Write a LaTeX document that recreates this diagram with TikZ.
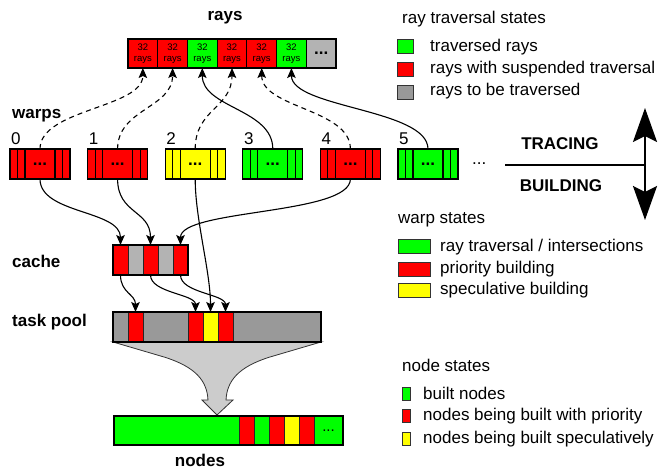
\documentclass[tikz,border=0pt]{standalone}
\usepackage{fontspec}
\setmainfont{Liberation Sans}
\usetikzlibrary{arrows.meta}
\definecolor{cRed}{HTML}{FF0000}
\definecolor{cGreen}{HTML}{00FF00}
\definecolor{cYellow}{HTML}{FFFF00}
\definecolor{cGray}{HTML}{999999}
\definecolor{cLight}{HTML}{B3B3B3}
\definecolor{cFunnel}{HTML}{CCCCCC}

\begin{document}
\begin{tikzpicture}[x=1pt,y=-1pt,
  lbl/.style={font=\fontsize{17}{20}\selectfont, inner sep=0, anchor=base west},
  head/.style={font=\fontsize{17}{20}\selectfont\bfseries, inner sep=0},
  cellbox/.style={draw=black, line width=1.1pt, inner sep=0, outer sep=0, minimum height=29pt},
  slot/.style={draw=black!85, line width=0.6pt, inner sep=0, outer sep=0, minimum width=15pt},
  swatch/.style={draw=black!80, line width=0.8pt, inner sep=0, outer sep=0},
  link/.style={line width=1.1pt, -{Stealth[length=10pt,width=8.5pt,inset=2pt]}},
  wait/.style={link, dash pattern=on 5pt off 4pt},
  switcharrow/.style={line width=2.5pt,
    {Stealth[length=34pt,width=24pt,inset=6pt]}-{Stealth[length=34pt,width=24pt,inset=6pt]}},
]
\useasboundingbox (0,0) rectangle (665,470);

% ---------------- rays buffer ----------------
\node[head, anchor=base] (raysT) at (225,21) {rays};
\foreach \c [count=\i from 0] in {cRed,cRed,cGreen,cRed,cRed,cGreen} {
  \node[cellbox, fill=\c, minimum width=29.714pt, align=center,
        font=\fontsize{9.5}{10.5}\selectfont] (r\i) at ({142.857+29.714*\i},53.5) {32\\rays};
}
\node[cellbox, fill=cLight, minimum width=29.714pt,
      font=\fontsize{17}{20}\selectfont\bfseries] (r6) at (321.14,53.5) {...};

% ---------------- warps ----------------
\node[head, anchor=base west] (warpsT) at (12,119) {warps};
\foreach \c [count=\k from 0] in {cRed,cRed,cYellow,cGreen,cRed,cGreen} {
  \node[cellbox, fill=\c, minimum width=60pt, minimum height=30pt,
        font=\fontsize{17}{20}\selectfont\bfseries] (w\k) at ({40+77.6*\k},164) {...};
  \foreach \d in {7.5,15,45,52.5}
    \draw[line width=1.1pt] ([xshift=\d pt]w\k.north west) -- ([xshift=\d pt]w\k.south west);
  \node[lbl] (wl\k) at ({11+77.6*\k},145) {\k};
}
\node[lbl] (wmore) at (472,165) {...};

% ---------------- cache ----------------
\node[head, anchor=base west] (cacheT) at (12,268) {cache};
\foreach \c [count=\i from 0] in {cRed,cLight,cRed,cLight,cRed}
  \node[slot, fill=\c, minimum height=30pt] (c\i) at ({120.5+15*\i},260) {};
\draw[line width=1.4pt] (c0.north west) rectangle (c4.south east);

% ---------------- funnel ----------------
\draw[fill=cFunnel, draw=black!80, line width=0.8pt]
  (113,342) -- (321,342) -- (270,357)
  .. controls (238,367) and (227,381) .. (226,400)
  -- (233,400) -- (217,415) -- (202,400) -- (208,400)
  .. controls (207,381) and (196,367) .. (164,357) -- cycle;

% ---------------- task pool ----------------
\node[head, anchor=base west] (poolT) at (12,327) {task pool};
\node[cellbox, fill=cGray, minimum width=208pt, minimum height=30pt] (pool) at (217,327) {};
\node[slot, fill=cRed, minimum height=30pt] (p1) at (135.5,327) {};
\node[slot, fill=cRed, minimum height=30pt] (p2) at (195.5,327) {};
\node[slot, fill=cYellow, minimum height=30pt] (p3) at (210.5,327) {};
\node[slot, fill=cRed, minimum height=30pt] (p4) at (225.5,327) {};
\draw[line width=1.4pt] (pool.north west) rectangle (pool.south east);

% ---------------- nodes array ----------------
\node[cellbox, fill=cGreen, minimum width=229pt, minimum height=29pt] (bar) at (228.5,430.5) {};
\foreach \c/\x in {cRed/246.5,cGreen/261.5,cRed/276.5,cYellow/291.5,cRed/306.5}
  \node[slot, fill=\c, minimum height=29pt] at (\x,430.5) {};
\node[font=\fontsize{15}{18}\selectfont, inner sep=0] (bmore) at (328.5,430.5) {...};
\draw[line width=1.4pt] (bar.north west) rectangle (bar.south east);
\node[head, anchor=base] (nodesT) at (200,467) {nodes};

% ---------------- warp -> ray links ----------------
\draw[wait] (w0.north) .. controls +(0,-40) and +(0,40) .. (r0.south);
\draw[wait] (w1.north) .. controls +(0,-40) and +(0,40) .. (r1.south);
\draw[link] (w3.north) .. controls +(0,-40) and +(0,40) .. (r2.south);
\draw[wait] (w2.north) .. controls +(0,-40) and +(0,40) .. (r3.south);
\draw[wait] (w4.north) .. controls +(0,-40) and +(0,40) .. (r4.south);
\draw[link] (w5.north) .. controls +(0,-40) and +(0,40) .. (r5.south);

% ---------------- warp -> cache / pool links ----------------
\draw[link] (w0.south) .. controls +(0,35) and +(0,-35) .. (c0.north);
\draw[link] (w1.south) .. controls +(0,35) and +(0,-35) .. (c2.north);
\draw[link] (w4.south) .. controls +(0,36) and +(0,-36) .. (c4.north);
\draw[link] (w2.south) .. controls +(0,40) and +(0,-40) .. (p3.north);
\draw[link] (c0.south) .. controls +(0,18) and +(0,-18) .. (p1.north);
\draw[link] (c2.south) .. controls +(0,18) and +(0,-18) .. (p2.north);
\draw[link] (c4.south) .. controls +(0,18) and +(0,-18) .. (p4.north);

% ---------------- tracing / building switch ----------------
\node[head, anchor=base] (tracT) at (560,150) {TRACING};
\node[head, anchor=base] (buildT) at (561,192) {BUILDING};
\coordinate (lineL) at (505,165);
\coordinate (axis) at (645,165);
\coordinate (axUp) at (645,108);
\coordinate (axDn) at (645,220);
\draw[line width=2pt] (lineL) -- (axis);
\draw[switcharrow] (axUp) -- (axDn);

% ---------------- legend: ray traversal states ----------------
\node[lbl] (lg1) at (402,24) {ray traversal states};
\node[swatch, fill=cGreen, minimum width=16pt, minimum height=14pt] (s11) at (405,46) {};
\node[swatch, fill=cRed, minimum width=16pt, minimum height=14pt] (s12) at (405,69) {};
\node[swatch, fill=cGray, minimum width=16pt, minimum height=14pt] (s13) at (405,92) {};
\node[lbl] (t11) at (430,52) {traversed rays};
\node[lbl] (t12) at (430,74) {rays with suspended traversal};
\node[lbl] (t13) at (430,96) {rays to be traversed};

% ---------------- legend: warp states ----------------
\node[lbl] (lg2) at (398,224) {warp states};
\node[swatch, fill=cGreen, minimum width=32pt, minimum height=14pt] (s21) at (414,246) {};
\node[swatch, fill=cRed, minimum width=32pt, minimum height=14pt] (s22) at (414,269) {};
\node[swatch, fill=cYellow, minimum width=32pt, minimum height=14pt] (s23) at (414,290.5) {};
\node[lbl] (t21) at (440,252) {ray traversal / intersections};
\node[lbl] (t22) at (440,274) {priority building};
\node[lbl] (t23) at (440,295) {speculative building};

% ---------------- legend: node states ----------------
\node[lbl] (lg3) at (402,372) {node states};
\node[swatch, fill=cGreen, minimum width=8pt, minimum height=13pt] (s31) at (406,393.5) {};
\node[swatch, fill=cRed, minimum width=8pt, minimum height=13pt] (s32) at (406,416) {};
\node[swatch, fill=cYellow, minimum width=8pt, minimum height=13pt] (s33) at (406,439) {};
\node[lbl] (t31) at (423,400) {built nodes};
\node[lbl] (t32) at (423,420.5) {nodes being built with priority};
\node[lbl] (t33) at (423,443.5) {nodes being built speculatively};
\end{tikzpicture}
\end{document}
